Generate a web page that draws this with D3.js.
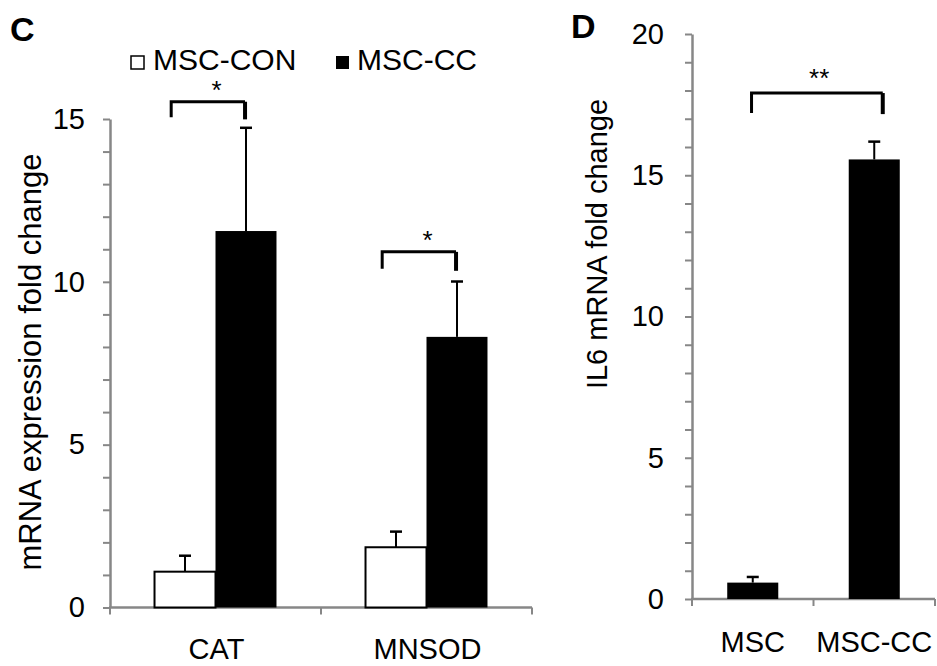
<!DOCTYPE html>
<html><head><meta charset="utf-8">
<script src="https://cdn.jsdelivr.net/npm/d3@7"></script>
<style>
body{margin:0;background:#fff}
text{font-family:"Liberation Sans",Arial,Helvetica,sans-serif}
</style>
</head><body>
<svg id="chart" width="937" height="666"></svg>
<script>
// ---------- data ----------
const genesC = ["CAT", "MNSOD"];
const seriesC = ["MSC-CON", "MSC-CC"];
const conMeans = [1.10, 1.85];
const conErrors = [0.49, 0.48];
const ccMeans = [11.56, 8.31];
const ccErrors = [3.17, 1.70];
const ticksC = [0, 5, 10, 15];
const sigLabelsC = ["*", "*"];
const bracketTopC = [15.53, 10.92];
const bracketLegC = [15.05, 10.40];

const groupsD = ["MSC", "MSC-CC"];
const il6Means = [0.58, 15.56];
const il6Errors = [0.20, 0.63];
const ticksD = [0, 5, 10, 15, 20];
const sigLabelsD = ["**"];
const bracketTopD = [17.91];
const bracketLegD = [17.2];

// ---------- setup ----------
const svg = d3.select("#chart");
const AXIS = "#878787";
const FS = 29;

function yAxis(g, y, max, major, pad) {
  const ax = d3.axisLeft(y).tickValues(d3.range(0, max + 1)).tickSize(7).tickSizeOuter(0)
    .tickPadding(pad).tickFormat(d => major.includes(d) ? d : "");
  g.call(ax);
  g.select(".domain").attr("stroke", AXIS).attr("stroke-width", 2.5);
  g.selectAll(".tick line").attr("stroke", AXIS).attr("stroke-width", 2);
  g.selectAll(".tick text").attr("font-size", FS).attr("fill", "#000")
    .style("font-family", '"Liberation Sans",Arial,sans-serif');
}

function xAxisLine(g, x0, x1, y0, bounds) {
  g.append("line").attr("x1", x0 - 1).attr("x2", x1).attr("y1", y0).attr("y2", y0)
    .attr("stroke", AXIS).attr("stroke-width", 2.5);
  g.selectAll("line.bt").data(bounds).join("line").attr("class", "bt")
    .attr("x1", d => d).attr("x2", d => d).attr("y1", y0).attr("y2", y0 + 7)
    .attr("stroke", AXIS).attr("stroke-width", 2);
}

function bracket(g, xl, xr, yTop, yLegL, yLegR) {
  g.append("path")
    .attr("d", `M${xl},${yLegL}V${yTop}H${xr}`)
    .attr("fill", "none").attr("stroke", "#000").attr("stroke-width", 3);
  g.append("line").attr("x1", xr).attr("x2", xr).attr("y1", yTop).attr("y2", yLegR)
    .attr("stroke", "#000").attr("stroke-width", 4);
}

function errBar(g, cx, yBase, yTop) {
  g.append("line").attr("x1", cx).attr("x2", cx).attr("y1", yBase).attr("y2", yTop)
    .attr("stroke", "#000").attr("stroke-width", 2);
  g.append("line").attr("x1", cx - 6).attr("x2", cx + 6).attr("y1", yTop).attr("y2", yTop)
    .attr("stroke", "#000").attr("stroke-width", 2.5);
}

// ---------- Panel C ----------
const gC = svg.append("g");
const yC = d3.scaleLinear().domain([0, 15]).range([607.5, 119]);
const xC = d3.scaleBand().domain(genesC).range([110, 532]).padding(0);
const xSub = d3.scaleBand().domain(seriesC).range([0, xC.bandwidth()]).paddingInner(0).paddingOuter(0.73);

xAxisLine(gC, 110, 532, yC(0), [xC.range()[0], ...genesC.slice(1).map(g => xC(g)), xC.range()[1]]);

const rowsC = genesC.map((g, i) => ({gene: g, vals: [
  {s: seriesC[0], m: conMeans[i], e: conErrors[i]},
  {s: seriesC[1], m: ccMeans[i], e: ccErrors[i]}]}));

rowsC.forEach(r => {
  r.vals.forEach(v => {
    const x = xC(r.gene) + xSub(v.s);
    const w = xSub.bandwidth();
    const white = v.s === "MSC-CON";
    gC.append("rect").attr("x", x).attr("y", yC(v.m)).attr("width", w)
      .attr("height", yC(0) - yC(v.m))
      .attr("fill", white ? "#fff" : "#000")
      .attr("stroke", "#000").attr("stroke-width", white ? 2 : 0);
    errBar(gC, x + w / 2, yC(v.m), yC(v.m + v.e));
  });
});
gC.append("g").attr("transform", "translate(110,0)").call(g => yAxis(g, yC, 15, ticksC, 18));

genesC.forEach((g, i) => {
  const b0 = xC(g), bw = xC.bandwidth();
  const xl = b0 + 0.29 * bw, xr = b0 + 0.64 * bw;
  bracket(gC, xl, xr, yC(bracketTopC[i]), yC(bracketLegC[i]), yC(bracketLegC[i]) + 2);
  gC.append("text").attr("x", b0 + bw / 2 + 1).attr("y", yC(bracketTopC[i]) - 3)
    .attr("text-anchor", "middle").attr("font-size", 26).text(sigLabelsC[i]);
  gC.append("text").attr("x", b0 + bw / 2 + 1).attr("y", 659)
    .attr("text-anchor", "middle").attr("font-size", FS).text(g);
});

gC.append("text").attr("transform", "translate(41,362) rotate(-90)")
  .attr("text-anchor", "middle").attr("font-size", 31).text("mRNA expression fold change");

// legend
const leg = gC.append("g");
const legX = [131, 336], legTX = [153, 357];
seriesC.forEach((s, i) => {
  leg.append("rect").attr("x", legX[i]).attr("y", 56).attr("width", 13).attr("height", 13)
    .attr("fill", i ? "#000" : "#fff").attr("stroke", "#000").attr("stroke-width", i ? 0 : 1.5);
  leg.append("text").attr("x", legTX[i]).attr("y", 70).attr("font-size", 30).text(s);
});

svg.append("text").attr("x", 10).attr("y", 41).attr("font-size", 34).attr("font-weight", "bold").text("C");

// ---------- Panel D ----------
const gD = svg.append("g");
const yD = d3.scaleLinear().domain([0, 20]).range([599, 34]);
const xD = d3.scaleBand().domain(groupsD).range([692, 935]).paddingInner(0.58).paddingOuter(0.29);
const xDb = d3.scaleBand().domain(groupsD).range([692, 935]).padding(0);

xAxisLine(gD, 692, 935, yD(0), [692, xDb(groupsD[1]), 935]);

groupsD.forEach((g, i) => {
  const x = xD(g), w = xD.bandwidth();
  gD.append("rect").attr("x", x).attr("y", yD(il6Means[i])).attr("width", w)
    .attr("height", yD(0) - yD(il6Means[i])).attr("fill", "#000");
  errBar(gD, x + w / 2, yD(il6Means[i]), yD(il6Means[i] + il6Errors[i]));
  gD.append("text").attr("x", xDb(g) + xDb.bandwidth() / 2).attr("y", 652)
    .attr("text-anchor", "middle").attr("font-size", FS).text(g);
});
gD.append("g").attr("transform", "translate(692,0)").call(g => yAxis(g, yD, 20, ticksD, 21));

{
  const xl = xDb(groupsD[0]) + 0.49 * xDb.bandwidth();
  const xr = xDb(groupsD[1]) + 0.57 * xDb.bandwidth();
  bracket(gD, xl, xr, yD(bracketTopD[0]), yD(bracketLegD[0]), yD(bracketLegD[0]) + 1);
  gD.append("text").attr("x", (xl + xr) / 2 + 2).attr("y", yD(bracketTopD[0]) - 6)
    .attr("text-anchor", "middle").attr("font-size", 26).text(sigLabelsD[0]);
}

gD.append("text").attr("transform", "translate(607,244) rotate(-90)")
  .attr("text-anchor", "middle").attr("font-size", 29).text("IL6 mRNA fold change");

svg.append("text").attr("x", 571).attr("y", 38).attr("font-size", 34).attr("font-weight", "bold").text("D");
</script>
</body></html>
